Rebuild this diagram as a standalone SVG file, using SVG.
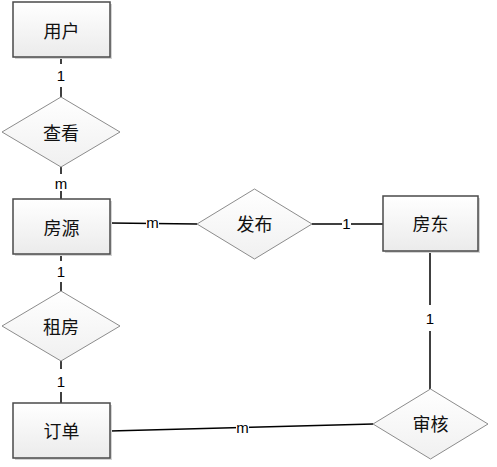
<svg xmlns="http://www.w3.org/2000/svg" width="497" height="467" viewBox="0 0 497 467">
<defs>
<linearGradient id="boxFill" x1="0" y1="0" x2="0" y2="1">
<stop offset="0" stop-color="#ffffff"/>
<stop offset="1" stop-color="#ebebeb"/>
</linearGradient>
<linearGradient id="diaFill" x1="0" y1="0" x2="0" y2="1">
<stop offset="0" stop-color="#ffffff"/>
<stop offset="1" stop-color="#f0f0f0"/>
</linearGradient>
</defs>
<style>
.shadow{fill:#d4d4d4;}
.box{fill:url(#boxFill);stroke:#4a4a4a;stroke-width:1.5;}
.dia{fill:url(#diaFill);stroke:#8c8c8c;stroke-width:1;}
.t{font-family:"Noto Sans CJK SC","Liberation Sans",sans-serif;font-size:18px;fill:#111;text-anchor:middle;dominant-baseline:central;}
.edge{stroke:#000;stroke-width:1.5;fill:none;}
.lb{fill:#fff;}
.l{font-family:"Liberation Sans",Arial,sans-serif;font-size:15px;fill:#000;text-anchor:middle;dominant-baseline:central;}
</style>
<rect width="497" height="467" fill="#fff"/>
<g id="connectors">
<line class="edge" x1="61" y1="57" x2="61" y2="97"/>
<rect class="lb" x="54" y="64" width="14" height="23"/>
<text class="l" x="61" y="75">1</text>
<line class="edge" x1="61" y1="167" x2="61" y2="199"/>
<rect class="lb" x="53" y="174" width="16" height="17"/>
<text class="l" x="61" y="183">m</text>
<line class="edge" x1="110" y1="223" x2="197" y2="224"/>
<rect class="lb" x="146" y="216" width="13" height="14"/>
<text class="l" x="152.5" y="222">m</text>
<line class="edge" x1="312" y1="224" x2="383" y2="224"/>
<rect class="lb" x="342" y="216" width="9" height="14"/>
<text class="l" x="346.5" y="223">1</text>
<line class="edge" x1="430" y1="251" x2="430" y2="389"/>
<rect class="lb" x="423" y="305" width="14" height="26"/>
<text class="l" x="430" y="318">1</text>
<line class="edge" x1="61" y1="254" x2="61" y2="291"/>
<rect class="lb" x="54" y="261" width="14" height="21"/>
<text class="l" x="61" y="271">1</text>
<line class="edge" x1="61" y1="361" x2="61" y2="403"/>
<rect class="lb" x="54" y="369" width="14" height="23"/>
<text class="l" x="61" y="381">1</text>
<line class="edge" x1="110" y1="431" x2="373" y2="424"/>
<rect class="lb" x="236" y="421" width="13" height="14"/>
<text class="l" x="242.5" y="427">m</text>
</g>
<g id="user">
<rect class="shadow" x="15" y="4" width="97" height="55"/>
<rect class="box" x="13" y="2" width="97" height="55"/>
<text class="t" x="61.5" y="29.5">用户</text>
</g>
<g id="view">
<polygon class="dia" points="61,97 120,132 61,167 2,132"/>
<text class="t" x="61" y="132">查看</text>
</g>
<g id="house">
<rect class="shadow" x="15" y="201" width="97" height="55"/>
<rect class="box" x="13" y="199" width="97" height="55"/>
<text class="t" x="61.5" y="226.5">房源</text>
</g>
<g id="publish">
<polygon class="dia" points="254.5,189 312,224 254.5,259 197,224"/>
<text class="t" x="254.5" y="223">发布</text>
</g>
<g id="landlord">
<rect class="shadow" x="385" y="198" width="95" height="55"/>
<rect class="box" x="383" y="196" width="95" height="55"/>
<text class="t" x="430.5" y="223">房东</text>
</g>
<g id="rent">
<polygon class="dia" points="61,291 120,326 61,361 2,326"/>
<text class="t" x="61" y="326">租房</text>
</g>
<g id="order">
<rect class="shadow" x="15" y="405" width="97" height="55"/>
<rect class="box" x="13" y="403" width="97" height="55"/>
<text class="t" x="61.5" y="430">订单</text>
</g>
<g id="audit">
<polygon class="dia" points="430.5,389 488,424 430.5,459 373,424"/>
<text class="t" x="430.5" y="423">审核</text>
</g>
</svg>
